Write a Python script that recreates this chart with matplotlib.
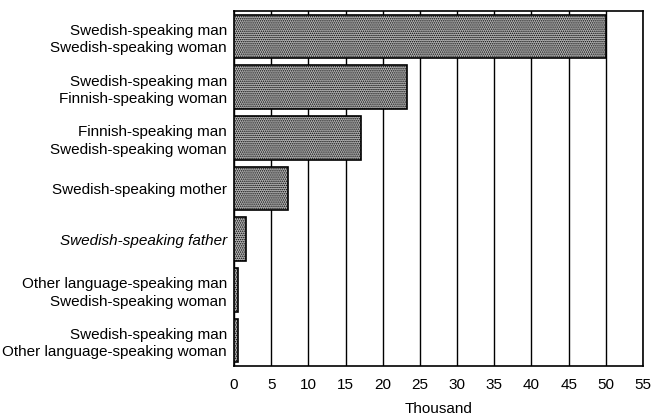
import matplotlib
matplotlib.use("Agg")
import matplotlib.pyplot as plt
import matplotlib.font_manager as fm

categories = [
    "Swedish-speaking man\nSwedish-speaking woman",
    "Swedish-speaking man\nFinnish-speaking woman",
    "Finnish-speaking man\nSwedish-speaking woman",
    "Swedish-speaking mother",
    "Swedish-speaking father",
    "Other language-speaking man\nSwedish-speaking woman",
    "Swedish-speaking man\nOther language-speaking woman",
]
values = [50.0, 23.2, 17.1, 7.3, 1.6, 0.6, 0.5]
xticks = list(range(0, 60, 5))
xlabel = "Thousand"

names = {f.name for f in fm.fontManager.ttflist}
family = ["Liberation Sans Narrow", "DejaVu Sans"] if "Liberation Sans Narrow" in names else ["Liberation Sans", "DejaVu Sans"]
plt.rcParams["font.family"] = family
plt.rcParams["hatch.linewidth"] = 0.7

fig = plt.figure(figsize=(6.52, 4.19), dpi=100)
ax = fig.add_axes([0.3589, 0.1265, 0.9862 - 0.3589, 0.9737 - 0.1265])

ypos = list(range(len(categories)))
ax.barh(ypos, values, height=0.86, facecolor="#b4b4b4", edgecolor="black",
        hatch="........", linewidth=1.2, zorder=3)

ax.set_xlim(0, 55)
ax.set_ylim(len(categories) - 0.5, -0.5)
ax.set_xticks(xticks)
ax.set_xticklabels([str(t) for t in xticks], fontsize=11)
ax.set_yticks(ypos)
ax.set_yticklabels(categories, fontsize=11, linespacing=1.3)
for lbl in ax.get_yticklabels():
    if "father" in lbl.get_text():
        lbl.set_fontstyle("italic")
ax.tick_params(axis="both", length=0, pad=5)
ax.tick_params(axis="x", pad=9)

for t in xticks:
    ax.axvline(t, color="black", linewidth=1.0, zorder=1)
for s in ax.spines.values():
    s.set_linewidth(1.2)
    s.set_color("black")

ax.set_xlabel(xlabel, fontsize=11, labelpad=7)

fig.savefig("out.png", dpi=100)
